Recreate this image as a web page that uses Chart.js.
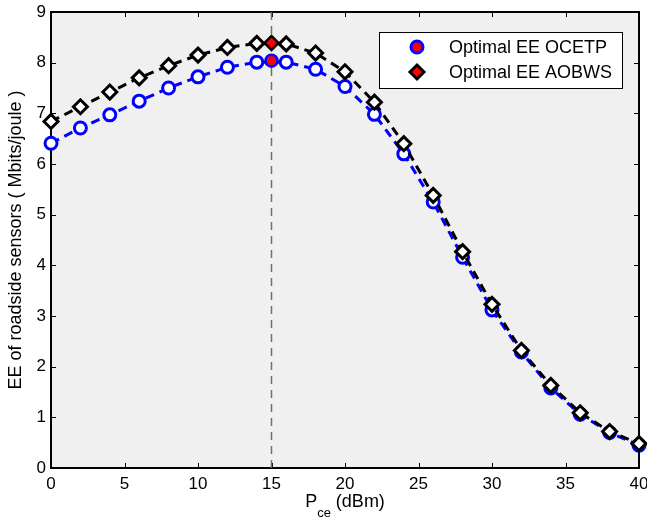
<!DOCTYPE html>
<html>
<head>
<meta charset="utf-8">
<script src="https://cdn.jsdelivr.net/npm/chart.js@4/dist/chart.umd.min.js"></script>
<style>
  html, body { margin: 0; padding: 0; background: #fff; }
  #wrap { width: 647px; height: 525px; }
</style>
</head>
<body>
<div id="wrap"><canvas id="c" width="647" height="525"></canvas></div>
<script>
const pce = [0, 2, 4, 6, 8, 10, 12, 14, 16, 18, 20, 22, 24, 26, 28, 30, 32, 34, 36, 38, 40];
const eeOCETP = [6.41, 6.71, 6.97, 7.24, 7.50, 7.72, 7.91, 8.01, 8.01, 7.87, 7.53, 6.98, 6.20, 5.25, 4.16, 3.12, 2.29, 1.58, 1.06, 0.70, 0.45];
const eeAOBWS = [6.84, 7.13, 7.42, 7.70, 7.94, 8.15, 8.30, 8.38, 8.37, 8.19, 7.82, 7.22, 6.40, 5.38, 4.27, 3.23, 2.32, 1.63, 1.09, 0.72, 0.48];
const optimalX = 15;
const optimalOCETP = 8.04;
const optimalAOBWS = 8.39;
const xTicks = [0, 5, 10, 15, 20, 25, 30, 35, 40];
const yTicks = [0, 1, 2, 3, 4, 5, 6, 7, 8, 9];
const legendLabels = ['Optimal EE OCETP', 'Optimal EE AOBWS'];
const yTitle = 'EE of roadside sensors ( Mbits/joule )';

const FONT = '"Liberation Sans", Arial, sans-serif';
const toXY = (xs, ys) => xs.map((x, i) => ({ x: x, y: ys[i] }));

const decor = {
  id: 'decor',
  beforeDraw(chart) {
    const { ctx, chartArea: a } = chart;
    ctx.save();
    ctx.fillStyle = '#f0f0f0';
    ctx.fillRect(a.left, a.top, a.right - a.left, a.bottom - a.top);
    ctx.restore();
  },
  beforeDatasetsDraw(chart) {
    const { ctx, chartArea: a, scales } = chart;
    ctx.save();
    ctx.strokeStyle = '#000';
    ctx.lineWidth = 1;
    const tl = 5;
    ctx.beginPath();
    xTicks.forEach(v => {
      const px = Math.round(scales.x.getPixelForValue(v)) + 0.5;
      ctx.moveTo(px, a.bottom); ctx.lineTo(px, a.bottom - tl);
      ctx.moveTo(px, a.top); ctx.lineTo(px, a.top + tl);
    });
    yTicks.forEach(v => {
      const py = Math.round(scales.y.getPixelForValue(v)) + 0.5;
      ctx.moveTo(a.left, py); ctx.lineTo(a.left + tl, py);
      ctx.moveTo(a.right, py); ctx.lineTo(a.right - tl, py);
    });
    ctx.stroke();
    ctx.lineWidth = 2;
    ctx.strokeRect(a.left, a.top, a.right - a.left, a.bottom - a.top);
    ctx.restore();
  },
  afterDraw(chart) {
    const { ctx, chartArea: a } = chart;
    ctx.save();
    const lx = 379, ly = 32, lw = 243, lh = 56;
    ctx.fillStyle = '#fff';
    ctx.fillRect(lx, ly, lw, lh);
    ctx.strokeStyle = '#000';
    ctx.lineWidth = 1;
    ctx.strokeRect(lx + 0.5, ly + 0.5, lw, lh);
    ctx.beginPath();
    ctx.arc(417, 47, 6, 0, Math.PI * 2);
    ctx.fillStyle = '#ff0000';
    ctx.fill();
    ctx.lineWidth = 3;
    ctx.strokeStyle = '#0000ff';
    ctx.stroke();
    const r = 7;
    ctx.beginPath();
    ctx.moveTo(417, 72 - r); ctx.lineTo(417 + r, 72); ctx.lineTo(417, 72 + r); ctx.lineTo(417 - r, 72); ctx.closePath();
    ctx.fillStyle = '#ff0000';
    ctx.fill();
    ctx.strokeStyle = '#000';
    ctx.stroke();
    ctx.fillStyle = '#000';
    ctx.font = '18px ' + FONT;
    ctx.textBaseline = 'middle';
    ctx.textAlign = 'left';
    ctx.fillText(legendLabels[0], 449, 48);
    ctx.fillText(legendLabels[1], 449, 73);

    const cx = (a.left + a.right) / 2;
    ctx.textBaseline = 'alphabetic';
    ctx.font = '18px ' + FONT;
    const wP = ctx.measureText('P').width;
    const wRest = ctx.measureText(' (dBm)').width;
    ctx.font = '13px ' + FONT;
    const wSub = ctx.measureText('ce').width;
    const total = wP + wSub + wRest;
    let x0 = cx - total / 2;
    ctx.font = '18px ' + FONT;
    ctx.fillText('P', x0, 507);
    ctx.font = '13px ' + FONT;
    ctx.fillText('ce', x0 + wP, 517);
    ctx.font = '18px ' + FONT;
    ctx.fillText(' (dBm)', x0 + wP + wSub, 507);

    ctx.translate(16, (a.top + a.bottom) / 2);
    ctx.rotate(-Math.PI / 2);
    ctx.textAlign = 'center';
    ctx.textBaseline = 'middle';
    ctx.font = '18px ' + FONT;
    ctx.fillText(yTitle, 0, 0);
    ctx.restore();
  }
};

new Chart(document.getElementById('c'), {
  type: 'line',
  data: {
    datasets: [
      {
        label: 'opt OCETP',
        data: [{ x: optimalX, y: optimalOCETP }],
        showLine: false,
        pointStyle: 'circle',
        pointRadius: 6,
        pointBorderWidth: 2.5,
        pointBorderColor: '#0000ff',
        pointBackgroundColor: '#ff0000',
        order: 0,
        clip: false
      },
      {
        label: 'opt AOBWS',
        data: [{ x: optimalX, y: optimalAOBWS }],
        showLine: false,
        pointStyle: 'rectRot',
        pointRadius: 7,
        pointBorderWidth: 2.5,
        pointBorderColor: '#000',
        pointBackgroundColor: '#ff0000',
        order: 1,
        clip: false
      },
      {
        label: legendLabels[1],
        data: toXY(pce, eeAOBWS),
        borderColor: '#000',
        borderWidth: 3,
        borderDash: [9, 6],
        pointStyle: 'rectRot',
        pointRadius: 7,
        pointBorderWidth: 3,
        pointBorderColor: '#000',
        pointBackgroundColor: '#fff',
        tension: 0,
        order: 2,
        clip: false
      },
      {
        label: legendLabels[0],
        data: toXY(pce, eeOCETP),
        borderColor: '#0000ff',
        borderWidth: 3,
        borderDash: [9, 6],
        pointStyle: 'circle',
        pointRadius: 6,
        pointBorderWidth: 3,
        pointBorderColor: '#0000ff',
        pointBackgroundColor: '#fff',
        tension: 0,
        order: 3,
        clip: false
      },
      {
        label: 'vline',
        data: [{ x: optimalX, y: 0 }, { x: optimalX, y: 9 }],
        borderColor: '#6e6e6e',
        borderWidth: 1.5,
        borderDash: [8, 6],
        pointRadius: 0,
        order: 4
      }
    ]
  },
  options: {
    responsive: false,
    animation: false,
    layout: { autoPadding: false, padding: { left: 0, top: 12, right: 8, bottom: 0 } },
    plugins: { legend: { display: false }, tooltip: { enabled: false } },
    scales: {
      x: {
        type: 'linear',
        min: 0, max: 40,
        afterBuildTicks(s) { s.ticks = xTicks.map(v => ({ value: v })); },
        afterFit(s) { s.height = 57; s.paddingLeft = 0; s.paddingRight = 0; },
        grid: { display: false, drawTicks: false },
        border: { display: false },
        ticks: { color: '#000', font: { family: FONT, size: 17 }, padding: 6, maxRotation: 0, autoSkip: false }
      },
      y: {
        type: 'linear',
        min: 0, max: 9,
        afterBuildTicks(s) { s.ticks = yTicks.map(v => ({ value: v })); },
        afterFit(s) { s.width = 51; s.paddingTop = 0; s.paddingBottom = 0; },
        grid: { display: false, drawTicks: false },
        border: { display: false },
        ticks: { color: '#000', font: { family: FONT, size: 17 }, padding: 5 }
      }
    }
  },
  plugins: [decor]
});
</script>
</body>
</html>
